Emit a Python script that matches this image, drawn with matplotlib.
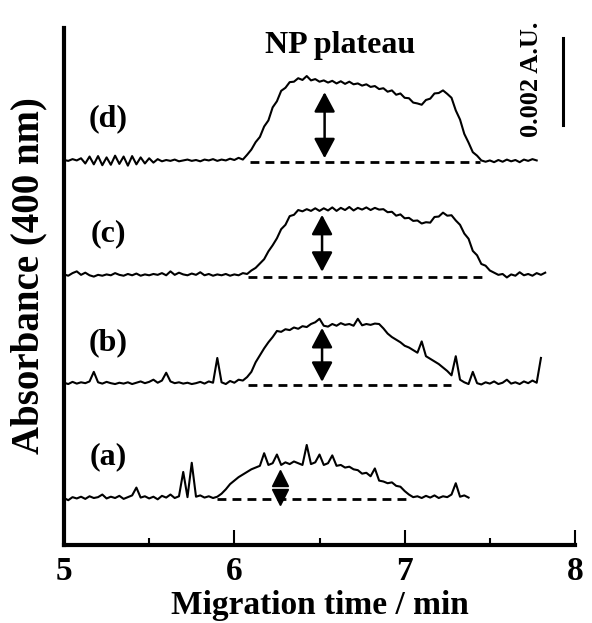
#!/usr/bin/env python3
# -*- coding: utf-8 -*-
import numpy as np
import matplotlib
matplotlib.use('Agg')
import matplotlib.pyplot as plt

# Migration time grid (min), one reading every 0.025 min
STEP = 0.025
START = 5.0

# Absorbance above each baseline, in units of 0.001 A.U.
trace_a = [0.02, -0.03, 0.04, 0.01, 0.05, 0.00, 0.06, 0.02, 0.04, 0.10,
           0.01, 0.05, 0.02, 0.07, 0.00, 0.04, 0.08, 0.26, 0.03, 0.06,
           0.01, 0.05, -0.01, 0.07, 0.03, 0.10, 0.02, 0.06, 0.62, 0.04,
           0.83, 0.05, 0.08, 0.03, 0.06, 0.02, 0.05, 0.12, 0.22, 0.34,
           0.42, 0.50, 0.56, 0.62, 0.68, 0.72, 0.76, 1.05, 0.78, 0.82,
           1.02, 0.78, 0.84, 0.80, 0.86, 0.82, 0.78, 1.24, 0.80, 0.84,
           1.02, 0.78, 0.82, 1.00, 0.76, 0.78, 0.72, 0.74, 0.68, 0.66,
           0.58, 0.60, 0.52, 0.70, 0.42, 0.40, 0.36, 0.38, 0.30, 0.28,
           0.18, 0.10, 0.04, 0.06, 0.02, 0.07, 0.03, 0.08, 0.02, 0.06,
           0.04, 0.10, 0.36, 0.05, 0.08, 0.03]

trace_b = [0.05, 0.02, 0.07, 0.03, 0.06, 0.04, 0.08, 0.30, 0.06, 0.03,
           0.07, 0.04, 0.02, 0.05, 0.03, 0.06, 0.02, 0.05, 0.08, 0.04,
           0.07, 0.12, 0.05, 0.10, 0.28, 0.08, 0.04, 0.06, 0.03, 0.05,
           0.02, 0.04, 0.07, 0.03, 0.08, 0.05, 0.62, 0.06, 0.02, 0.09,
           0.05, 0.12, 0.10, 0.18, 0.30, 0.52, 0.68, 0.84, 0.98, 1.10,
           1.24, 1.22, 1.28, 1.26, 1.32, 1.29, 1.35, 1.33, 1.40, 1.44,
           1.52, 1.36, 1.34, 1.40, 1.36, 1.42, 1.38, 1.40, 1.36, 1.52,
           1.37, 1.40, 1.38, 1.41, 1.40, 1.30, 1.18, 1.10, 1.04, 0.98,
           0.90, 0.86, 0.80, 0.74, 1.00, 0.66, 0.60, 0.54, 0.48, 0.40,
           0.32, 0.22, 0.66, 0.12, 0.06, 0.02, 0.30, 0.04, 0.01, 0.06,
           0.03, 0.08, 0.02, 0.05, 0.12, 0.03, 0.06, 0.02, 0.08, 0.04,
           0.10, 0.05, 0.62]

trace_c = [0.05, 0.02, 0.08, 0.12, 0.04, 0.09, 0.03, 0.00, 0.04, 0.02,
           0.05, 0.03, 0.08, 0.04, 0.02, 0.06, 0.03, 0.07, 0.02, 0.05,
           0.03, 0.06, 0.04, 0.08, 0.03, 0.12, 0.04, 0.09, 0.05, 0.03,
           0.07, 0.04, 0.10, 0.03, 0.06, 0.02, 0.05, 0.03, 0.06, 0.02,
           0.05, 0.03, 0.08, 0.06, 0.14, 0.20, 0.30, 0.40, 0.58, 0.72,
           0.88, 1.09, 1.19, 1.39, 1.42, 1.53, 1.50, 1.55, 1.51, 1.57,
           1.51, 1.57, 1.52, 1.59, 1.51, 1.58, 1.53, 1.60, 1.52, 1.58,
           1.54, 1.59, 1.53, 1.58, 1.54, 1.55, 1.48, 1.49, 1.40, 1.43,
           1.34, 1.35, 1.28, 1.29, 1.22, 1.25, 1.24, 1.37, 1.38, 1.47,
           1.40, 1.41, 1.29, 1.19, 0.99, 0.87, 0.59, 0.49, 0.29, 0.25,
           0.14, 0.09, 0.04, 0.06, -0.02, 0.05, 0.02, 0.10, 0.03, 0.06,
           0.02, 0.08, 0.04, 0.09]

trace_d = [0.04, 0.02, 0.06, 0.03, 0.08, -0.04, 0.12, -0.06, 0.13, -0.08,
           0.10, -0.07, 0.14, -0.05, 0.12, -0.09, 0.13, -0.06, 0.10, -0.04,
           0.08, -0.02, 0.06, 0.01, 0.04, 0.02, 0.05, 0.01, 0.03, 0.05,
           0.02, 0.04, 0.01, 0.05, 0.03, 0.06, 0.02, 0.05, 0.03, 0.07,
           0.04, 0.09, 0.05, 0.16, 0.28, 0.45, 0.57, 0.81, 0.95, 1.25,
           1.39, 1.63, 1.70, 1.83, 1.84, 1.92, 1.88, 1.97, 1.87, 1.90,
           1.84, 1.87, 1.82, 1.86, 1.80, 1.85, 1.79, 1.84, 1.78, 1.80,
           1.75, 1.78, 1.72, 1.74, 1.67, 1.69, 1.61, 1.64, 1.54, 1.57,
           1.47, 1.46, 1.36, 1.34, 1.31, 1.42, 1.45, 1.57, 1.58, 1.64,
           1.56, 1.47, 1.18, 0.97, 0.64, 0.44, 0.22, 0.14, 0.03, 0.00,
           0.03, -0.01, 0.04, 0.00, 0.05, 0.01, 0.04, -0.01, 0.05, 0.02,
           0.06, 0.03]

trace_labels = ['(a)', '(b)', '(c)', '(d)']
traces = [trace_a, trace_b, trace_c, trace_d]
baselines = [1.06, 3.68, 6.17, 8.81]

# Baseline (dashed) extent for each trace, min
dash_start = [5.90, 6.08, 6.08, 6.09]
dash_end = [7.03, 7.27, 7.48, 7.44]

# Plateau arrows: position (min) and top / bottom above baseline
arrow_x = [6.27, 6.515, 6.515, 6.53]
arrow_top = [0.64, 1.31, 1.42, 1.60]
arrow_bottom = [-0.14, 0.07, 0.11, 0.08]

# Scale bar
scale_bar = 2.0  # 0.002 A.U.

plt.rcParams['font.family'] = ['Liberation Serif', 'DejaVu Serif']
plt.rcParams['font.weight'] = 'bold'
plt.rcParams['axes.labelweight'] = 'bold'

fig = plt.figure(figsize=(5.92, 6.23), dpi=100)
ax = fig.add_axes([0.1081, 0.1252, 0.8632, 0.8299])

for label, trace, base, x0, x1, xa, ya, yb in zip(
        trace_labels, traces, baselines, dash_start, dash_end,
        arrow_x, arrow_top, arrow_bottom):
    t = START + STEP * np.arange(len(trace))
    ax.plot(t, np.array(trace) + base, color='black', lw=1.5)
    ax.plot([x0, x1], [base, base], color='black', lw=2.0,
            linestyle=(0, (3.2, 2.2)))
    ax.text(5.26, base + 0.98, label, fontsize=23, ha='center',
            va='center')
    if label == '(a)':
        # short arrow: the two heads only
        ax.plot([xa], [base + ya - 0.16], marker='^', ms=12,
                color='black', lw=0)
        ax.plot([xa], [base + yb + 0.18], marker='v', ms=12,
                color='black', lw=0)
    else:
        ax.annotate('', xy=(xa, base + ya), xytext=(xa, base + yb),
                    arrowprops=dict(arrowstyle='<|-|>,head_length=0.6,'
                                    'head_width=0.32',
                                    mutation_scale=20, lw=1.8,
                                    color='black', shrinkA=0, shrinkB=0))

# Scale bar and annotation
ax.plot([7.93, 7.93], [9.66, 9.66 + scale_bar], color='black', lw=2.2)
ax.text(7.745, 10.70, '0.002 A.U.', rotation=90, fontsize=19,
        ha='center', va='center')
ax.text(6.62, 11.49, 'NP plateau', fontsize=23, ha='center', va='center')

# Axes formatting
ax.set_xlim(5, 8)
ax.set_ylim(0, 11.885)
ax.spines['top'].set_visible(False)
ax.spines['right'].set_visible(False)
ax.spines['left'].set_linewidth(3)
ax.spines['bottom'].set_linewidth(3)
ax.set_yticks([])
ax.set_xticks([5, 6, 7, 8])
ax.set_xticks([5.5, 6.5, 7.5], minor=True)
ax.tick_params(axis='x', which='major', direction='in', length=11,
               width=1.5, labelsize=24, pad=8)
ax.tick_params(axis='x', which='minor', direction='in', length=5,
               width=1.5)
ax.set_xlabel('Migration time / min', fontsize=24, labelpad=2)
ax.set_ylabel('Absorbance (400 nm)', fontsize=28)
ax.yaxis.set_label_coords(-0.033, 0.522)

fig.savefig('out.png', dpi=100)
